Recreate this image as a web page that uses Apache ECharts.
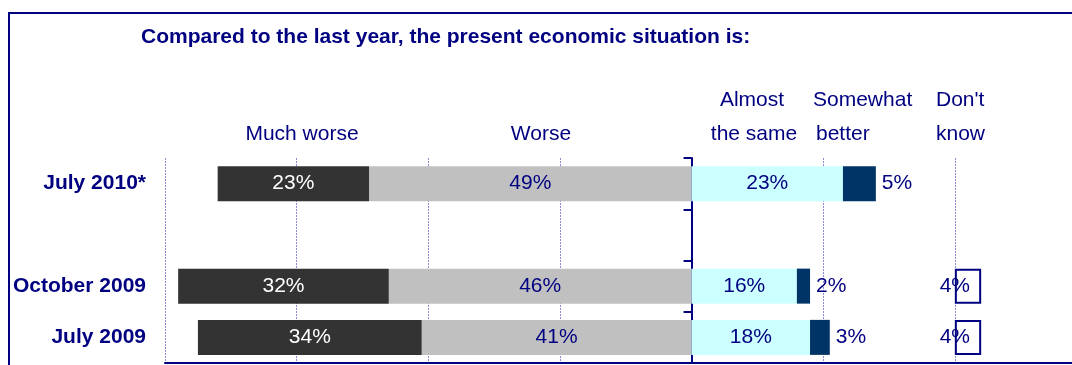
<!DOCTYPE html>
<html>
<head>
<meta charset="utf-8">
<script src="https://cdn.jsdelivr.net/npm/echarts@6/dist/echarts.min.js"></script>
<style>
html,body{margin:0;padding:0;background:#fff;}
#chart{width:1072px;height:365px;}
</style>
</head>
<body>
<div id="chart"></div>
<script>
// ---- data ----
var categories = ['July 2010*', '', 'October 2009', 'July 2009'];
var muchWorse = [23, null, 32, 34];
var worse = [49, null, 46, 41];
var almostSame = [23, null, 16, 18];
var somewhatBetter = [5, null, 2, 3];
var dontKnow = [null, null, 4, 4];
var xMin = -80;
var xInterval = 20;

var NAVY = '#000080';
var FONT = '"Liberation Sans", Arial, sans-serif';
var DK_START = 40;   // column where "Don't know" boxes start
var X_MAX = 57.8;    // visible right end of the plot (page edge)

var chart = echarts.init(document.getElementById('chart'), null, {renderer: 'canvas'});

function pct(p) { return Math.abs(p.value) + '%'; }
function neg(arr) { return arr.map(function (v) { return v == null ? null : -v; }); }

var labelBase = {show: true, fontFamily: FONT, fontSize: 21, color: NAVY, formatter: pct};

var option = {
  animation: false,
  backgroundColor: '#fff',
  title: {
    text: 'Compared to the last year, the present economic situation is:',
    left: 136, top: 22,
    textStyle: {fontFamily: FONT, fontSize: 21, fontWeight: 'bold', color: NAVY}
  },
  grid: {left: 165, top: 158, right: 0, height: 205, containLabel: false},
  xAxis: {
    type: 'value', min: xMin, max: X_MAX, interval: xInterval,
    axisLine: {show: true, onZero: false, lineStyle: {color: NAVY, width: 2}},
    axisTick: {show: false},
    axisLabel: {show: false},
    splitLine: {show: true, showMaxLine: false, lineStyle: {color: '#8c8cd0', type: [2, 1], width: 1}}
  },
  yAxis: [{
    type: 'category', data: categories, inverse: true,
    axisLine: {show: true, onZero: true, lineStyle: {color: NAVY, width: 2}},
    axisTick: {show: true, length: 8, lineStyle: {color: NAVY, width: 2}},
    axisLabel: {show: false},
    splitLine: {show: false}
  }, {
    type: 'category', data: categories, inverse: true, position: 'left',
    axisLine: {show: false, onZero: false},
    axisTick: {show: false},
    axisLabel: {show: true, margin: 19, fontFamily: FONT, fontSize: 21, fontWeight: 'bold', color: NAVY},
    splitLine: {show: false}
  }],
  graphic: [
    {type: 'rect', shape: {x: 9, y: 13, width: 1100, height: 400}, style: {fill: 'none', stroke: NAVY, lineWidth: 2}, z: 100, silent: true},
    {type: 'text', x: 302, y: 134, style: {text: 'Much worse', font: '21px ' + FONT, fill: NAVY, textAlign: 'center', textVerticalAlign: 'middle'}},
    {type: 'text', x: 541, y: 134, style: {text: 'Worse', font: '21px ' + FONT, fill: NAVY, textAlign: 'center', textVerticalAlign: 'middle'}},
    {type: 'text', x: 752, y: 100, style: {text: 'Almost', font: '21px ' + FONT, fill: NAVY, textAlign: 'center', textVerticalAlign: 'middle'}},
    {type: 'text', x: 754, y: 134, style: {text: 'the same', font: '21px ' + FONT, fill: NAVY, textAlign: 'center', textVerticalAlign: 'middle'}},
    {type: 'text', x: 813, y: 100, style: {text: 'Somewhat', font: '21px ' + FONT, fill: NAVY, textAlign: 'left', textVerticalAlign: 'middle'}},
    {type: 'text', x: 816, y: 134, style: {text: 'better', font: '21px ' + FONT, fill: NAVY, textAlign: 'left', textVerticalAlign: 'middle'}},
    {type: 'text', x: 936, y: 100, style: {text: "Don't", font: '21px ' + FONT, fill: NAVY, textAlign: 'left', textVerticalAlign: 'middle'}},
    {type: 'text', x: 936, y: 134, style: {text: 'know', font: '21px ' + FONT, fill: NAVY, textAlign: 'left', textVerticalAlign: 'middle'}}
  ],
  series: [
    {
      name: 'Worse', type: 'bar', stack: 'main', barWidth: 35, data: neg(worse),
      itemStyle: {color: '#C0C0C0'},
      label: Object.assign({}, labelBase, {position: 'inside'})
    },
    {
      name: 'Much worse', type: 'bar', stack: 'main', barWidth: 35, data: neg(muchWorse),
      itemStyle: {color: '#333333'},
      label: Object.assign({}, labelBase, {position: 'inside', color: '#ffffff'})
    },
    {
      name: 'Almost the same', type: 'bar', stack: 'main', barWidth: 35, data: almostSame,
      itemStyle: {color: '#CCFFFF'},
      label: Object.assign({}, labelBase, {position: 'inside'})
    },
    {
      name: 'Somewhat better', type: 'bar', stack: 'main', barWidth: 35, data: somewhatBetter,
      itemStyle: {color: '#003366'},
      label: Object.assign({}, labelBase, {position: 'right', distance: 6})
    },
    {
      name: 'dk-offset', type: 'bar', stack: 'dk', barWidth: 35, barGap: '-100%',
      data: dontKnow.map(function (v) { return v == null ? null : DK_START; }),
      itemStyle: {color: 'rgba(0,0,0,0)'}, silent: true, label: {show: false}
    },
    {
      name: "Don't know", type: 'bar', stack: 'dk', barWidth: 33, data: dontKnow,
      itemStyle: {color: '#ffffff', borderColor: NAVY, borderWidth: 2},
      label: Object.assign({}, labelBase, {position: [0, '50%'], align: 'center', verticalAlign: 'middle'})
    }
  ]
};
chart.setOption(option);
</script>
</body>
</html>
